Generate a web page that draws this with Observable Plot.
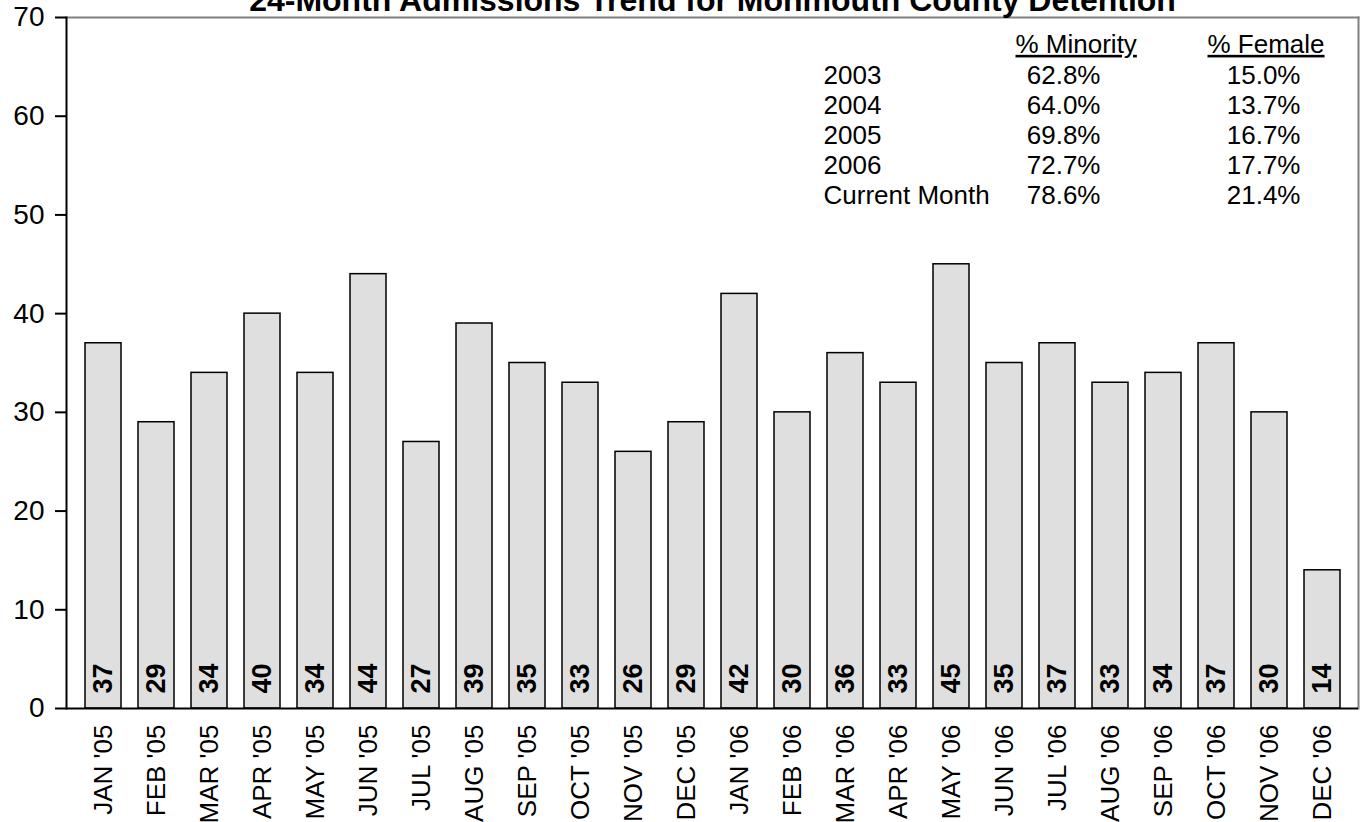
<!DOCTYPE html>
<html>
<head>
<meta charset="utf-8">
<script src="https://cdn.jsdelivr.net/npm/d3@7"></script>
<script src="https://cdn.jsdelivr.net/npm/@observablehq/plot@0.6"></script>
<style>
  body { margin: 0; background: #fff; }
  #chart svg { font-family: "Liberation Sans", Arial, sans-serif; color: #000; background: #fff; }
</style>
</head>
<body>
<div id="chart"></div>
<script>
const title = "24-Month Admissions Trend for Monmouth County Detention";
const months = ["JAN '05","FEB '05","MAR '05","APR '05","MAY '05","JUN '05","JUL '05","AUG '05","SEP '05","OCT '05","NOV '05","DEC '05",
                "JAN '06","FEB '06","MAR '06","APR '06","MAY '06","JUN '06","JUL '06","AUG '06","SEP '06","OCT '06","NOV '06","DEC '06"];
const admissions = [37,29,34,40,34,44,27,39,35,33,26,29,42,30,36,33,45,35,37,33,34,37,30,14];
const yTicks = [0,10,20,30,40,50,60,70];
const tableHeaders = ["% Minority","% Female"];
const tableRows = ["2003","2004","2005","2006","Current Month"];
const pctMinority = ["62.8%","64.0%","69.8%","72.7%","78.6%"];
const pctFemale = ["15.0%","13.7%","16.7%","17.7%","21.4%"];

const data = months.map((m, i) => ({month: m, value: admissions[i]}));
const rows = tableRows.map((r, i) => ({label: r, minority: pctMinority[i], female: pctFemale[i]}));

const tableFont = 26;
const tableMarks = [];
tableMarks.push(Plot.text([tableHeaders[0]], {text: d => d, frameAnchor: "top-left", textAnchor: "start", lineAnchor: "middle", dx: 949, dy: 27, fontSize: tableFont}));
tableMarks.push(Plot.text([tableHeaders[1]], {text: d => d, frameAnchor: "top-left", textAnchor: "start", lineAnchor: "middle", dx: 1141, dy: 27, fontSize: tableFont}));
rows.forEach((r, i) => {
  const dy = 58 + i * 30;
  tableMarks.push(Plot.text([r], {text: "label", frameAnchor: "top-left", textAnchor: "start", lineAnchor: "middle", dx: 757, dy, fontSize: tableFont}));
  tableMarks.push(Plot.text([r], {text: "minority", frameAnchor: "top-left", textAnchor: "end", lineAnchor: "middle", dx: 1034, dy, fontSize: tableFont}));
  tableMarks.push(Plot.text([r], {text: "female", frameAnchor: "top-left", textAnchor: "end", lineAnchor: "middle", dx: 1234, dy, fontSize: tableFont}));
});

const plot = Plot.plot({
  width: 1367,
  height: 822,
  marginTop: 17,
  marginBottom: 114,
  marginLeft: 66,
  marginRight: 9,
  x: {domain: months, paddingInner: 0.33, paddingOuter: 0.15},
  y: {domain: [0, 70]},
  marks: [
    Plot.frame({anchor: "top", stroke: "#808080", strokeWidth: 2}),
    Plot.frame({anchor: "right", stroke: "#808080", strokeWidth: 2}),
    Plot.barY(data, {x: "month", y: "value", fill: "#dfdfdf", stroke: "#000", strokeWidth: 1.5}),
    Plot.text(data, {x: "month", y: 0, text: d => String(d.value), rotate: -90, textAnchor: "start", lineAnchor: "middle", dy: -15, fontSize: 27, fontWeight: "bold", fill: "#000"}),
    Plot.ruleY([0], {stroke: "#000", strokeWidth: 2}),
    Plot.frame({anchor: "left", stroke: "#000", strokeWidth: 2}),
    Plot.axisY({ticks: yTicks, tickFormat: d => String(d), tickSize: 11, tickPadding: 11, fontSize: 28, strokeWidth: 2, label: null}),
    Plot.axisX({tickRotate: -90, tickSize: 0, tickPadding: 16, fontSize: 26, label: null}),
    Plot.text([title], {text: d => d, frameAnchor: "top", lineAnchor: "bottom", dy: -7, fontSize: 32, fontWeight: "bold", fill: "#000"}),
    ...tableMarks
  ]
});
document.getElementById("chart").append(plot);
d3.select(plot).selectAll("text")
  .filter(function() { return tableHeaders.includes(this.textContent); })
  .attr("text-decoration", "underline")
  .style("text-decoration", "underline");
</script>
</body>
</html>
